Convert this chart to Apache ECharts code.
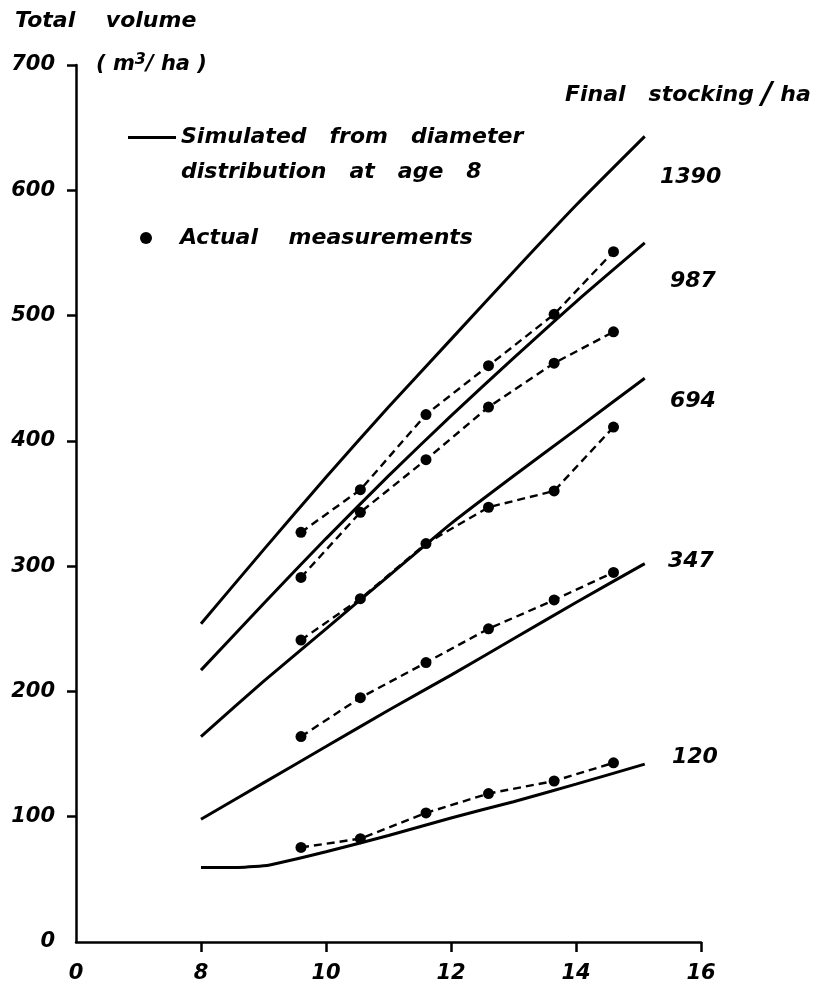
<html>
<head>
	<meta charset="utf-8">
	<script src="https://cdn.jsdelivr.net/npm/echarts@6.0.0/dist/echarts.min.js"></script>
	<style>
		body{margin:0;background:#fff;}
		#chart_1{width:820px;height:985px;}
	</style>
</head>
<body>
<div id="chart_1"></div>
<script>
	// measurement ages (years) and measured volumes per final stocking
	var ages = [9.6, 10.55, 11.6, 12.6, 13.65, 14.6];
	var meas120 = [75.5, 82.5, 103, 118.5, 128.5, 143];
	var meas347 = [164, 195, 223, 250, 273, 295];
	var meas694 = [241, 274, 318, 347, 360, 411];
	var meas987 = [291, 343, 385, 427, 462, 487];
	var meas1390 = [327, 361, 421, 460, 501, 551];

	// simulated curves
	var simAges = [8, 9, 10, 11, 12, 13, 14, 15.1];
	var sim1390 = [254, 313, 371, 427, 481, 535, 588, 643];
	var sim987 = [217, 270, 322, 372, 420, 466, 511, 558];
	var sim694 = [164, 208, 250, 292, 334, 372, 409, 450];
	var sim347 = [98, 127, 156, 185, 213, 242, 271, 302];
	var simAges120 = [8, 8.6, 9.1, 10, 11, 12, 13, 14, 15.1];
	var sim120 = [59.5, 59.5, 61.5, 72, 85, 99, 112, 126, 142];

	var stockLabels = ['1390', '987', '694', '347', '120'];
	var xTicks = [8, 10, 12, 14, 16];
	var yTicks = [100, 200, 300, 400, 500, 600, 700];

	var SIM = ' \nSimulated   from   diameter\ndistribution   at   age   8';
	var ACT = 'Actual    measurements';
	var FF = 'DejaVu Sans';
	var font = {fontFamily: FF, fontWeight: 'bold', fontStyle: 'italic', color: '#000'};

	function pairs(xs, ys){
		var out = [];
		for (var i = 0; i < ys.length; i++) out.push([xs[i], ys[i]]);
		return out;
	}
	function simLine(xs, ys){
		return {name: SIM, type: 'line', data: pairs(xs, ys), showSymbol: false, smooth: 0.2,
			lineStyle: {color: '#000', width: 3}, itemStyle: {color: '#000'}, z: 3};
	}
	function measLine(ys){
		return {name: ACT, type: 'line', data: pairs(ages, ys), symbol: 'circle', symbolSize: 11,
			lineStyle: {color: '#000', width: 2.4, type: [8, 5]}, itemStyle: {color: '#000'}, z: 4};
	}
	function txt(s, x, y, size, extra){
		return {type: 'text', left: x, top: y, style: Object.assign({text: s, fontSize: size}, font, extra || {})};
	}

	var myChart = echarts.init(document.getElementById('chart_1'));
	var option = {
		backgroundColor: '#fff',
		animation: false,
		grid: {left: 76, right: 119, top: 65, bottom: 43},
		xAxis: {
			type: 'value', min: 6, max: 16, interval: 2,
			axisLine: {lineStyle: {color: '#000', width: 2.5}},
			axisTick: {customValues: xTicks, length: 10, lineStyle: {color: '#000', width: 2.5}},
			axisLabel: Object.assign({fontSize: 21, margin: 21, formatter: function(v){ return v === 6 ? '0' : v; }}, font),
			splitLine: {show: false}
		},
		yAxis: {
			type: 'value', min: 0, max: 700, interval: 100,
			axisLine: {show: true, lineStyle: {color: '#000', width: 2.5}},
			axisTick: {show: true, customValues: yTicks, length: 9, lineStyle: {color: '#000', width: 2.5}},
			axisLabel: Object.assign({fontSize: 21, margin: 21}, font),
			splitLine: {show: false}
		},
		legend: [
			{
				data: [{name: SIM, icon: 'rect'}], left: 128, top: 85, padding: 0,
				itemWidth: 48, itemHeight: 3, selectedMode: false,
				textStyle: Object.assign({fontSize: 22, lineHeight: 35}, font)
			},
			{
				data: [{name: ACT, icon: 'circle'}], left: 140, top: 226, padding: 0,
				itemWidth: 12, itemHeight: 12, selectedMode: false,
				textStyle: Object.assign({fontSize: 22, lineHeight: 24, padding: [0, 0, 0, 23]}, font)
			}
		],
		graphic: [
			txt('Total    volume', 15, 10, 22),
			txt('( m{sup|3}/ ha )', 96, 52, 21, {rich: {sup: {fontSize: 16, fontWeight: 'bold', fontStyle: 'italic', fontFamily: FF, padding: [0, 0, 10, 0]}}}),
			txt('Final   stocking {sl|/} ha', 565, 80, 22, {rich: {sl: {fontSize: 30, fontWeight: 'bold', fontStyle: 'italic', fontFamily: FF}}}),
			txt(stockLabels[0], 660, 166, 22),
			txt(stockLabels[1], 670, 270, 22),
			txt(stockLabels[2], 670, 390, 22),
			txt(stockLabels[3], 668, 550, 22),
			txt(stockLabels[4], 672, 746, 22)
		],
		series: [
			simLine(simAges, sim1390),
			simLine(simAges, sim987),
			simLine(simAges, sim694),
			simLine(simAges, sim347),
			simLine(simAges120, sim120),
			measLine(meas1390),
			measLine(meas987),
			measLine(meas694),
			measLine(meas347),
			measLine(meas120)
		]
	};
	myChart.setOption(option);
</script>
</body>
</html>
